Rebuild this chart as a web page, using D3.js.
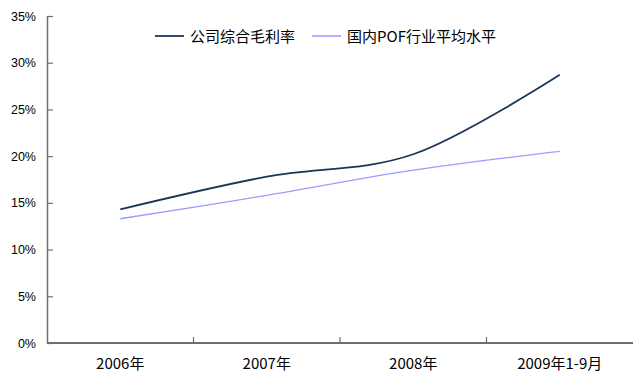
<!DOCTYPE html>
<html>
<head>
<meta charset="utf-8">
<script src="https://cdn.jsdelivr.net/npm/d3@7"></script>
<style>
  html, body { margin: 0; padding: 0; background: #fff; }
  svg { display: block; }
</style>
</head>
<body>
<svg id="chart" width="633" height="374"></svg>
<script>
// Gross margin: company vs. domestic POF industry average
const categories = ["2006年", "2007年", "2008年", "2009年1-9月"];
const companyMargin = [14.3, 17.8, 20.2, 28.7];
const industryMargin = [13.3, 15.8, 18.5, 20.5];
const yTicks = [0, 5, 10, 15, 20, 25, 30, 35];
const seriesNames = ["公司综合毛利率", "国内POF行业平均水平"];
const seriesColors = ["#1c3658", "#9c9cff"];

const svg = d3.select("#chart");
const plot = { left: 47, right: 633, top: 16, bottom: 343 };

const x = d3.scaleBand().domain(categories).range([plot.left, plot.right]).padding(0);
const y = d3.scaleLinear().domain([0, 35]).range([plot.bottom, plot.top]);

const axisColor = "#6e6e6e";

// Y axis with inward ticks
const yAxis = svg.append("g")
  .attr("transform", `translate(${plot.left},0)`)
  .call(d3.axisLeft(y).tickValues(yTicks).tickFormat(d => d + "%").tickSizeInner(-6).tickSizeOuter(0).tickPadding(11));
yAxis.select(".domain").attr("stroke", axisColor).attr("stroke-width", 1.5);
yAxis.selectAll(".tick line").attr("stroke", axisColor).attr("stroke-width", 1.2);
yAxis.selectAll(".tick text")
  .attr("fill", "#000")
  .style("font-family", "'Liberation Sans', Arial, sans-serif")
  .style("font-size", "12.5px");

// X axis: ticks at category boundaries
const boundaries = categories.slice(1).map(c => x(c));
const xAxisG = svg.append("g");
xAxisG.append("line")
  .attr("x1", plot.left).attr("x2", plot.right)
  .attr("y1", plot.bottom).attr("y2", plot.bottom)
  .attr("stroke", axisColor).attr("stroke-width", 1.8);
xAxisG.selectAll("line.tick").data(boundaries).join("line")
  .attr("class", "tick")
  .attr("x1", d => d).attr("x2", d => d)
  .attr("y1", plot.bottom).attr("y2", plot.bottom - 6)
  .attr("stroke", axisColor).attr("stroke-width", 1.2);
xAxisG.selectAll("text").data(categories).join("text")
  .attr("x", d => x(d) + x.bandwidth() / 2)
  .attr("y", 369)
  .attr("text-anchor", "middle")
  .style("font-family", "'Noto Sans CJK SC', sans-serif")
  .style("font-size", "15px")
  .attr("fill", "#000")
  .text(d => d);

// Smoothed lines
const line = d3.line()
  .x((d, i) => x(categories[i]) + x.bandwidth() / 2)
  .y(d => y(d))
  .curve(d3.curveCatmullRom.alpha(0));

[industryMargin, companyMargin].forEach((vals, k) => {
  const idx = k === 0 ? 1 : 0;
  svg.append("path")
    .datum(vals)
    .attr("d", line)
    .attr("fill", "none")
    .attr("stroke", seriesColors[idx])
    .attr("stroke-width", idx === 0 ? 1.8 : 1.3);
});

// Legend
const legend = svg.append("g").attr("transform", "translate(155,36)");
const legendItems = [
  { name: seriesNames[0], color: seriesColors[0], x: 0, w: 1.8 },
  { name: seriesNames[1], color: seriesColors[1], x: 157, w: 1.6 }
];
legendItems.forEach(it => {
  legend.append("line")
    .attr("x1", it.x).attr("x2", it.x + 29)
    .attr("y1", 0).attr("y2", 0)
    .attr("stroke", it.color).attr("stroke-width", it.w);
  legend.append("text")
    .attr("x", it.x + 35).attr("y", 5.5)
    .style("font-family", "'Noto Sans CJK SC', sans-serif")
    .style("font-size", "15px")
    .attr("fill", "#000")
    .text(it.name);
});
</script>
</body>
</html>
